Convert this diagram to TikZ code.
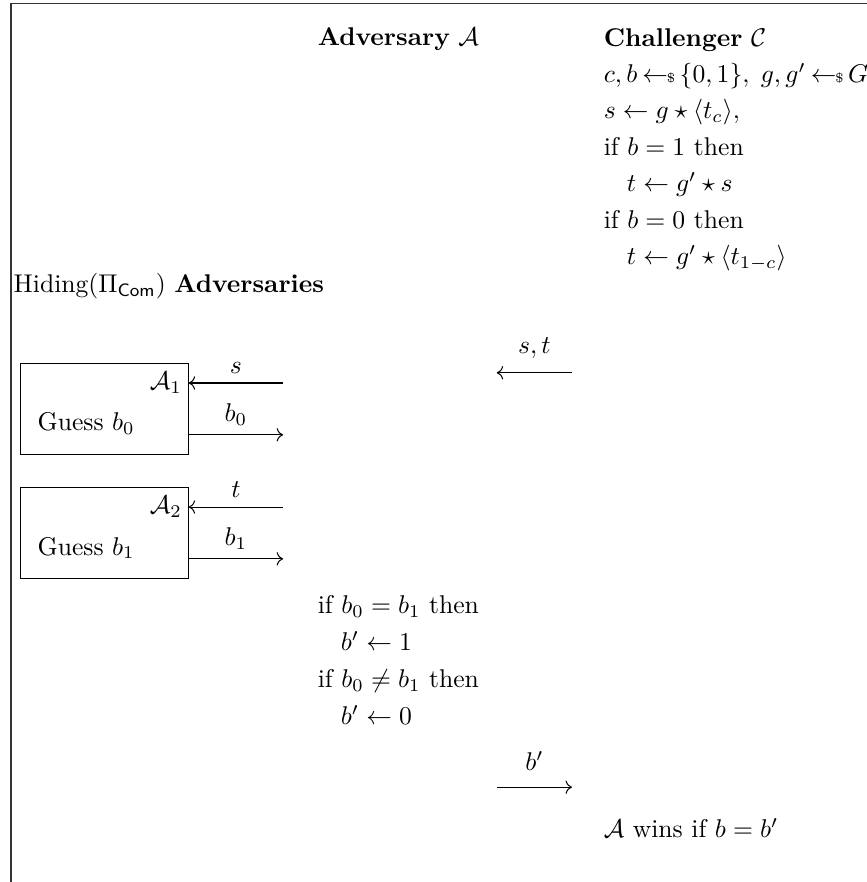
\documentclass[tikz,border=0pt]{standalone}
\usepackage{amsmath,amssymb}
\usetikzlibrary{arrows.meta, positioning}
\newcommand{\samplegets}{\hskip2pt{\gets\!\!\mbox{\tiny\$}}\,}

\begin{document}
\begin{tikzpicture}[
    txt/.style={inner sep=0pt, align=left},
    guessbox/.style={draw, minimum width=2.30cm, minimum height=1.25cm},
    msg/.style={->},
    lbl/.style={above}
]
    \useasboundingbox (0,0) rectangle (11.88,-12.09);
    \draw[line width=0.5pt, black!80] (11.88,-0.05) -- (0.15,-0.05) -- (0.15,-12.09);

    \node[txt, anchor=base west] (adv) at (4.35,-0.63) {\textbf{Adversary} $\mathcal{A}$};
    \node[txt, anchor=north west] (chal) at (8.27,-0.38) {\textbf{Challenger} $\mathcal{C}$\\[2.2pt]
        $c, b \samplegets \{0,1\},\; g, g' \samplegets G$\\[2.2pt]
        $s \gets g \star \langle t_c \rangle,$\\[2.2pt]
        if $b = 1$ then\\[2.2pt]
        \hspace{0.9em}$t \gets g' \star s$\\[2.2pt]
        if $b = 0$ then\\[2.2pt]
        \hspace{0.9em}$t \gets g' \star \langle t_{1-c} \rangle$};

    \node[txt, anchor=west] (hiding) at (0.18,-3.92) {Hiding($\Pi_{\mathsf{Com}}$) \textbf{Adversaries}};

    % s,t to the adversary
    \coordinate (st1) at (7.84,-5.11);
    \coordinate (st0) at (6.81,-5.11);
    \draw[msg] (st1) -- (st0) node[midway, above=2pt] {$s, t$};

    % first adversary
    \node[guessbox] (box1) at (1.43,-5.61) {};
    \node[txt, anchor=east] (a1) at (2.50,-5.25) {$\mathcal{A}_1$};
    \node[txt, anchor=west] (g0) at (0.51,-5.81) {Guess $b_0$};
    \coordinate (s1) at (3.88,-5.25);
    \coordinate (b0) at (3.88,-5.96);
    \draw[msg] (s1) -- (s1 -| box1.east) node[midway, lbl] {$s$};
    \draw[msg] (b0 -| box1.east) -- (b0) node[midway, lbl] {$b_0$};

    % second adversary
    \node[guessbox] (box2) at (1.43,-7.31) {};
    \node[txt, anchor=east] (a2) at (2.50,-6.95) {$\mathcal{A}_2$};
    \node[txt, anchor=west] (g1) at (0.51,-7.51) {Guess $b_1$};
    \coordinate (t1) at (3.88,-6.95);
    \coordinate (b1) at (3.88,-7.66);
    \draw[msg] (t1) -- (t1 -| box2.east) node[midway, lbl] {$t$};
    \draw[msg] (b1 -| box2.east) -- (b1) node[midway, lbl] {$b_1$};

    \node[txt, anchor=north west] (cmp) at (4.35,-8.16) {if $b_0 = b_1$ then\\[2.4pt]
        \hspace{0.9em}$b' \gets 1$\\[2.4pt]
        if $b_0 \neq b_1$ then\\[2.4pt]
        \hspace{0.9em}$b' \gets 0$};

    % b' to the challenger
    \coordinate (bp0) at (6.81,-10.79);
    \coordinate (bp1) at (7.84,-10.79);
    \draw[msg] (bp0) -- (bp1) node[midway, above=3pt] {$b'$};

    \node[txt, anchor=west] (win) at (8.27,-11.35) {$\mathcal{A}$ wins if $b = b'$};
\end{tikzpicture}
\end{document}
